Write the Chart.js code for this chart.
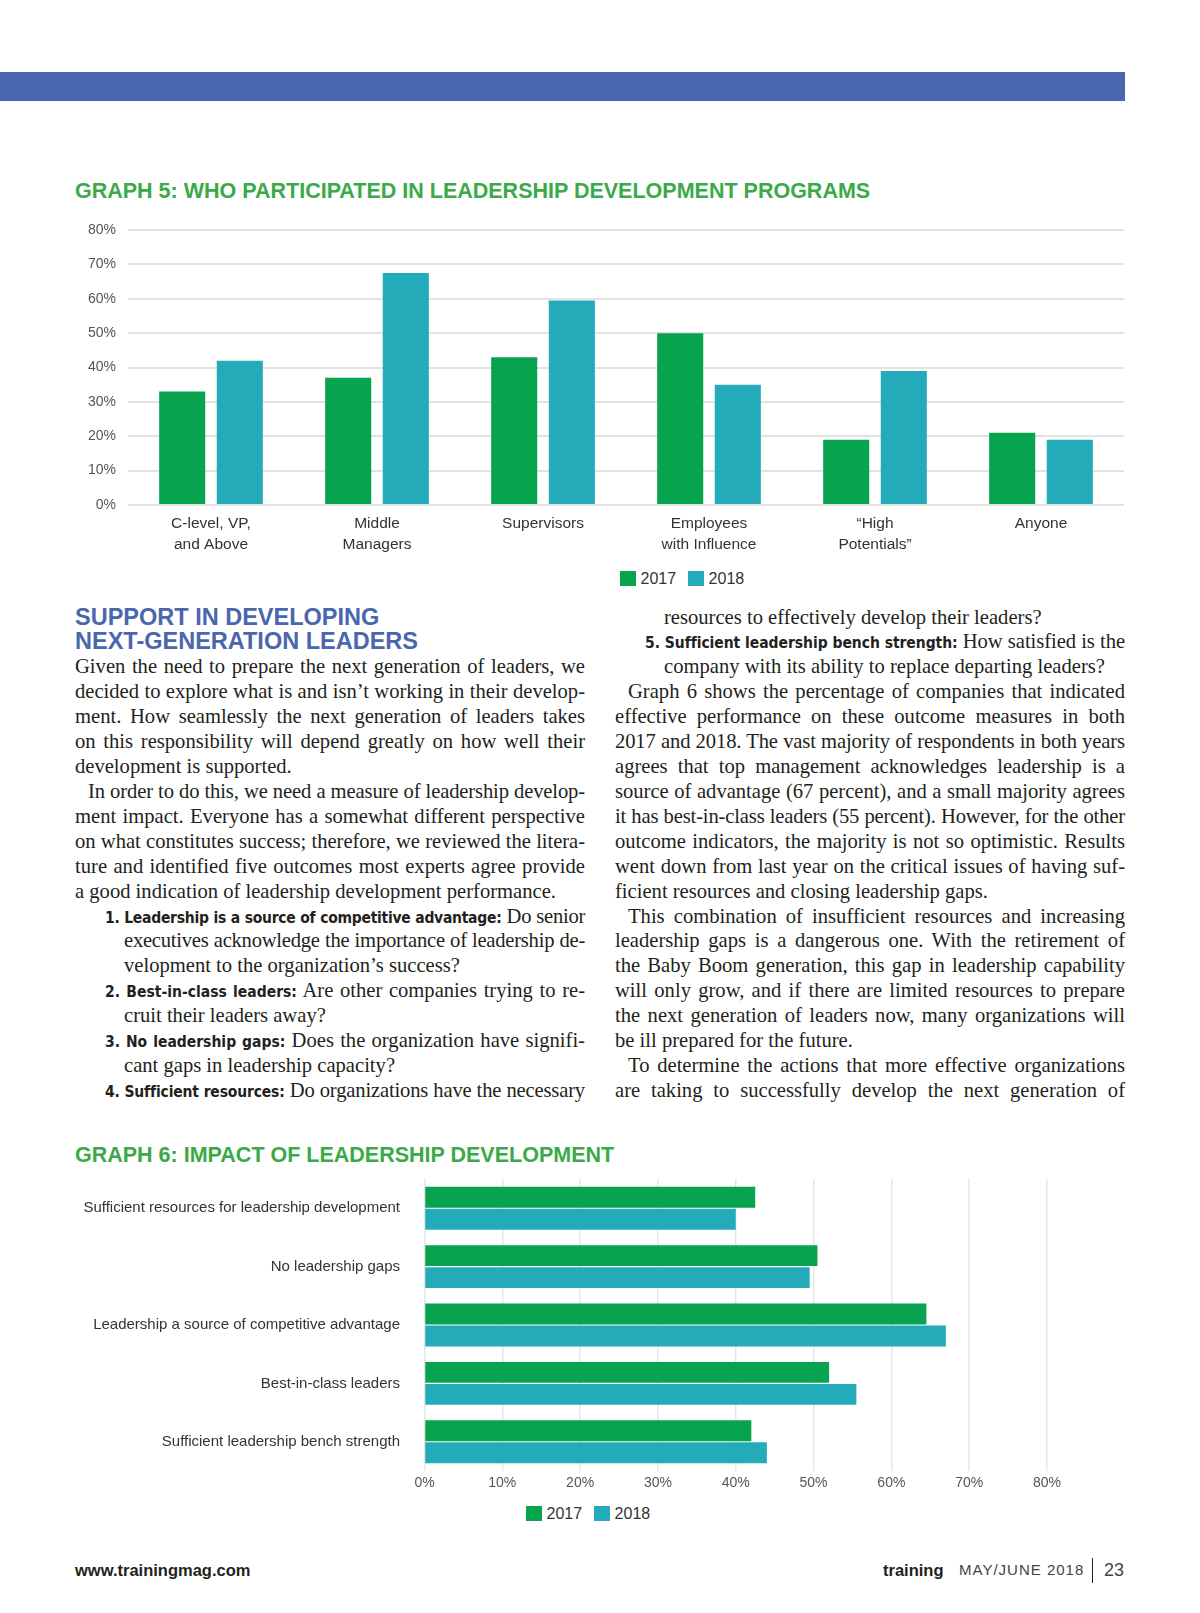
<!DOCTYPE html>
<html>
<head>
<meta charset="utf-8">
<script src="https://cdn.jsdelivr.net/npm/chart.js@4.4.1/dist/chart.umd.min.js"></script>
<style>
  body { margin: 0; width: 1200px; height: 1613px; position: relative; background: #fff; overflow: hidden; }
  .abs { position: absolute; }
  .topbar { left: 0; top: 72px; width: 1125px; height: 29px; background: #4a66ae; }
  .gtitle { left: 75px; font: bold 21.5px/26px "Liberation Sans", Arial, sans-serif; color: #3aa948; white-space: nowrap; }
  .legend { font: 16px/16px "Liberation Sans", Arial, sans-serif; color: #333; white-space: nowrap; }
  .legend span.sw { display: inline-block; width: 15.5px; height: 15px; vertical-align: -2px; margin-right: 5px; }
  .legend span.tx { margin-right: 12px; }
  .col { top: 604.5px; width: 510px; font: 20.6px/24.93px "Liberation Serif", "Times New Roman", serif; color: #231f20; }
  .col .h { font: bold 23.5px/24.93px "Liberation Sans", Arial, sans-serif; color: #4a66ad; white-space: nowrap; height: 24.93px; }
  .l { text-align: justify; text-align-last: justify; height: 24.93px; }
  .l.e { text-align-last: left; }
  .l.p { margin-left: 13px; }
  .l.n { margin-left: 30px; }
  .l.c { margin-left: 49px; }
  .l b { font-family: "Liberation Sans Narrow", "DejaVu Sans Condensed", "Liberation Sans", sans-serif; font-weight: bold; font-size: 15.5px; line-height: 10px; }
  .foot { top: 1558px; font: bold 16.5px/24px "Liberation Sans Narrow", "Liberation Sans", sans-serif; color: #231f20; }
</style>
</head>
<body>
<div class="abs topbar"></div>

<div class="abs gtitle" style="top:178px">GRAPH 5: WHO PARTICIPATED IN LEADERSHIP DEVELOPMENT PROGRAMS</div>
<canvas id="graph5" class="abs" width="1058" height="345" style="left:70px;top:215px"></canvas>
<div id="legend5" class="abs legend" style="left:620px;top:571px"></div>

<div class="abs col" style="left:75px">
  <div class="h">SUPPORT IN DEVELOPING</div>
  <div class="h">NEXT-GENERATION LEADERS</div>
  <div class="l">Given the need to prepare the next generation of leaders, we</div>
  <div class="l">decided to explore what is and isn’t working in their develop-</div>
  <div class="l">ment. How seamlessly the next generation of leaders takes</div>
  <div class="l">on this responsibility will depend greatly on how well their</div>
  <div class="l e">development is supported.</div>
  <div class="l p">In order to do this, we need a measure of leadership develop-</div>
  <div class="l">ment impact. Everyone has a somewhat different perspective</div>
  <div class="l">on what constitutes success; therefore, we reviewed the litera-</div>
  <div class="l">ture and identified five outcomes most experts agree provide</div>
  <div class="l e">a good indication of leadership development performance.</div>
  <div class="l n"><b>1. Leadership is a source of competitive advantage:</b> Do senior</div>
  <div class="l c">executives acknowledge the importance of leadership de-</div>
  <div class="l c e">velopment to the organization’s success?</div>
  <div class="l n"><b>2. Best-in-class leaders:</b> Are other companies trying to re-</div>
  <div class="l c e">cruit their leaders away?</div>
  <div class="l n"><b>3. No leadership gaps:</b> Does the organization have signifi-</div>
  <div class="l c e">cant gaps in leadership capacity?</div>
  <div class="l n"><b>4. Sufficient resources:</b> Do organizations have the necessary</div>
</div>

<div class="abs col" style="left:615px">
  <div class="l c e">resources to effectively develop their leaders?</div>
  <div class="l n"><b>5. Sufficient leadership bench strength:</b> How satisfied is the</div>
  <div class="l c e">company with its ability to replace departing leaders?</div>
  <div class="l p">Graph 6 shows the percentage of companies that indicated</div>
  <div class="l">effective performance on these outcome measures in both</div>
  <div class="l">2017 and 2018. The vast majority of respondents in both years</div>
  <div class="l">agrees that top management acknowledges leadership is a</div>
  <div class="l">source of advantage (67 percent), and a small majority agrees</div>
  <div class="l">it has best-in-class leaders (55 percent). However, for the other</div>
  <div class="l">outcome indicators, the majority is not so optimistic. Results</div>
  <div class="l">went down from last year on the critical issues of having suf-</div>
  <div class="l e">ficient resources and closing leadership gaps.</div>
  <div class="l p">This combination of insufficient resources and increasing</div>
  <div class="l">leadership gaps is a dangerous one. With the retirement of</div>
  <div class="l">the Baby Boom generation, this gap in leadership capability</div>
  <div class="l">will only grow, and if there are limited resources to prepare</div>
  <div class="l">the next generation of leaders now, many organizations will</div>
  <div class="l e">be ill prepared for the future.</div>
  <div class="l p">To determine the actions that more effective organizations</div>
  <div class="l">are taking to successfully develop the next generation of</div>
</div>

<div class="abs gtitle" style="top:1142px">GRAPH 6: IMPACT OF LEADERSHIP DEVELOPMENT</div>
<canvas id="graph6" class="abs" width="1000" height="330" style="left:70px;top:1170px"></canvas>
<div id="legend6" class="abs legend" style="left:526px;top:1506px"></div>

<div class="abs foot" style="left:75px">www.trainingmag.com</div>
<div class="abs foot" style="left:883px">training</div>
<div class="abs foot" style="left:959px;font:15px/24px 'Liberation Sans',sans-serif;letter-spacing:1px;color:#444">MAY/JUNE 2018</div>
<div class="abs" style="left:1092px;top:1558px;width:1px;height:25px;background:#231f20"></div>
<div class="abs foot" style="left:1104px;font:18px/24px 'Liberation Sans',sans-serif;color:#444">23</div>

<script>
// series shared by both graphs
const seriesLabels = ['2017', '2018'];
const seriesColors = ['#08a34f', '#23abb9'];

// graph 5: who participated
const g5Categories = [['C-level, VP,', 'and Above'], ['Middle', 'Managers'], 'Supervisors',
  ['Employees', 'with Influence'], ['“High', 'Potentials”'], 'Anyone'];
const g5Values2017 = [33, 37, 43, 50, 19, 21];
const g5Values2018 = [42, 67.5, 59.5, 35, 39, 19];

// graph 6: impact of leadership development
const g6Categories = ['Sufficient resources for leadership development', 'No leadership gaps',
  'Leadership a source of competitive advantage', 'Best-in-class leaders',
  'Sufficient leadership bench strength'];
const g6Values2017 = [42.5, 50.5, 64.5, 52, 42];
const g6Values2018 = [40, 49.5, 67, 55.5, 44];

const pctTicks = { min: 0, max: 80, step: 10 };

Chart.defaults.font.family = "'Liberation Sans', Arial, sans-serif";
Chart.defaults.color = '#444';

// legend drawn into a div so it can sit where the page puts it
const htmlLegend = {
  id: 'htmlLegend',
  afterUpdate(chart, args, opts) {
    const box = document.getElementById(opts.containerID);
    box.innerHTML = '';
    chart.options.plugins.legend.labels.generateLabels(chart).forEach(item => {
      const sw = document.createElement('span');
      sw.className = 'sw';
      sw.style.background = item.fillStyle;
      const tx = document.createElement('span');
      tx.className = 'tx';
      tx.textContent = item.text;
      box.append(sw, tx);
    });
  }
};

const makeDatasets = (a, b) => [a, b].map((data, i) => ({
  label: seriesLabels[i],
  data,
  backgroundColor: seriesColors[i],
  borderWidth: 0
}));

// fixed axis width, and no extra top/bottom room for the tick padding
const fixWidth = w => s => { s.width = w; s.paddingTop = 0; s.paddingBottom = 0; };

new Chart(document.getElementById('graph5'), {
  type: 'bar',
  data: { labels: g5Categories, datasets: makeDatasets(g5Values2017, g5Values2018) },
  options: {
    responsive: false,
    animation: false,
    layout: { padding: { top: 15, right: 4, left: 0, bottom: 0 } },
    datasets: { bar: { categoryPercentage: 0.694, barPercentage: 0.8 } },
    plugins: {
      legend: { display: false },
      tooltip: { enabled: false },
      htmlLegend: { containerID: 'legend5' }
    },
    scales: {
      x: {
        grid: { display: false },
        border: { display: false },
        afterFit: s => { s.height = 55; },
        ticks: { padding: 0, color: '#333', font: { size: 15.5, lineHeight: 1.35 } }
      },
      y: {
        min: pctTicks.min,
        max: pctTicks.max,
        afterFit: fixWidth(58),
        border: { display: false },
        grid: { color: '#e2e2e2', lineWidth: 2, drawTicks: false },
        ticks: { stepSize: pctTicks.step, padding: 12, color: '#555', font: { size: 14 }, callback: v => v + '%' }
      }
    }
  },
  plugins: [htmlLegend]
});

new Chart(document.getElementById('graph6'), {
  type: 'bar',
  data: { labels: g6Categories, datasets: makeDatasets(g6Values2017, g6Values2018) },
  options: {
    indexAxis: 'y',
    responsive: false,
    animation: false,
    layout: { padding: { top: 9, right: 23, left: 0, bottom: 0 } },
    datasets: { bar: { categoryPercentage: 0.753, barPercentage: 0.95 } },
    plugins: {
      legend: { display: false },
      tooltip: { enabled: false },
      htmlLegend: { containerID: 'legend6' }
    },
    scales: {
      x: {
        min: pctTicks.min,
        max: pctTicks.max,
        afterFit: s => { s.height = 29; },
        border: { display: false },
        grid: { color: '#e6e6e6', lineWidth: 1.5, drawTicks: false },
        ticks: { stepSize: pctTicks.step, padding: 4, color: '#555', font: { size: 14 }, callback: v => v + '%' }
      },
      y: {
        afterFit: fixWidth(354.5),
        border: { display: false },
        grid: { display: false },
        ticks: { padding: 16.5, color: '#333', font: { size: 15 } }
      }
    }
  },
  plugins: [htmlLegend]
});

// squeeze any text line that is wider than its column, then let justify fill it
document.querySelectorAll('.l').forEach(el => {
  const r = document.createRange();
  r.selectNodeContents(el);
  el.style.whiteSpace = 'nowrap';
  el.style.textAlignLast = 'left';
  const natural = r.getBoundingClientRect().width;
  const room = el.clientWidth;
  if (natural > room - 1) {
    el.style.letterSpacing = ((room - natural - 2) / el.textContent.length).toFixed(3) + 'px';
  }
  el.style.whiteSpace = '';
  el.style.textAlignLast = '';
});
</script>
</body>
</html>
